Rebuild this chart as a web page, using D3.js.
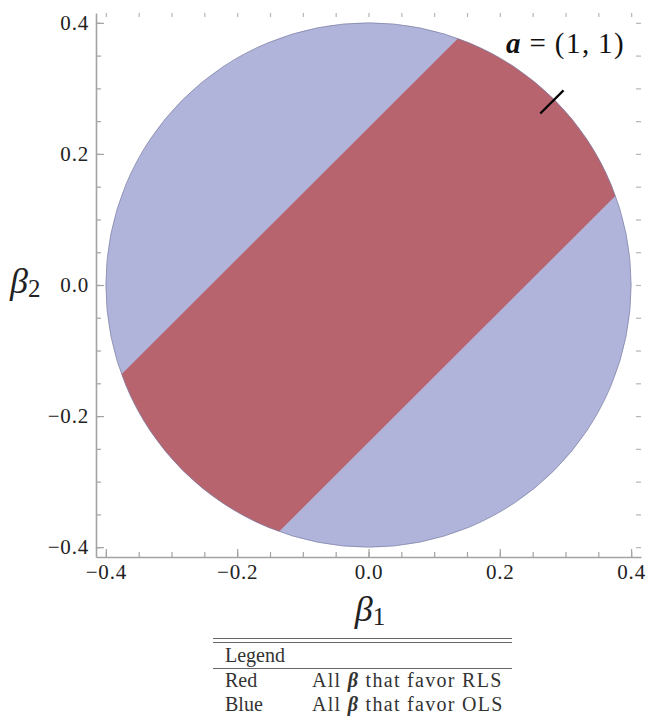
<!DOCTYPE html>
<html lang="en">
<head>
    <meta charset="UTF-8">
    <title>RLS vs OLS region</title>
    <script src="https://d3js.org/d3.v7.min.js"></script>
    <style>
        body { margin: 0; background: #fff; }
    </style>
</head>
<body>
    <script>
        // chart values
        const majorTicks = [-0.4, -0.2, 0.0, 0.2, 0.4];
        const minorTicks = [-0.4, -0.35, -0.3, -0.25, -0.2, -0.15, -0.1, -0.05, 0.0,
                            0.05, 0.1, 0.15, 0.2, 0.25, 0.3, 0.35, 0.4];
        const circleRadius = [0.4];
        const bandOffsets = [-0.24, 0.24];      // beta2 - beta1 limits of the red band
        const aVector = [1, 1];
        const aMarker = [0.37, 0.42];           // radial extent of the short "a" segment
        const legendHeader = ["Legend", ""];
        const legendNames = ["Red", "Blue"];
        const legendMethods = ["RLS", "OLS"];

        const width = 660;
        const height = 720;
        const serif = "'Liberation Serif', serif";

        const svg = d3.select("body").append("svg")
            .attr("width", width)
            .attr("height", height)
            .style("font-family", serif);

        const x = d3.scaleLinear().domain([-0.415, 0.415]).range([96, 641]);
        const y = d3.scaleLinear().domain([-0.415, 0.415]).range([557, 13]);

        const frameColor = "#a3a3a3";
        const fmt = d3.format(".1f");

        // circle + band
        const r = circleRadius[0];
        const defs = svg.append("defs");
        defs.append("clipPath").attr("id", "disk")
            .append("ellipse")
            .attr("cx", x(0)).attr("cy", y(0))
            .attr("rx", x(r) - x(0)).attr("ry", y(0) - y(r));

        svg.append("ellipse")
            .attr("cx", x(0)).attr("cy", y(0))
            .attr("rx", x(r) - x(0)).attr("ry", y(0) - y(r))
            .attr("fill", "#b0b4db");

        const lo = bandOffsets[0], hi = bandOffsets[1];
        const ext = 0.8;
        const band = [[-ext, -ext + hi], [ext, ext + hi], [ext, ext + lo], [-ext, -ext + lo]];
        svg.append("path")
            .datum(band)
            .attr("d", d3.line().x(d => x(d[0])).y(d => y(d[1])).curve(d3.curveLinearClosed))
            .attr("fill", "#b8646f")
            .attr("clip-path", "url(#disk)");

        svg.append("ellipse")
            .attr("cx", x(0)).attr("cy", y(0))
            .attr("rx", x(r) - x(0)).attr("ry", y(0) - y(r))
            .attr("fill", "none")
            .attr("stroke", "#7d80a3")
            .attr("stroke-opacity", 0.7)
            .attr("stroke-width", 1);

        // "a" direction marker
        const aLen = Math.hypot(aVector[0], aVector[1]);
        const ux = aVector[0] / aLen, uy = aVector[1] / aLen;
        svg.append("line")
            .attr("x1", x(aMarker[0] * ux)).attr("y1", y(aMarker[0] * uy))
            .attr("x2", x(aMarker[1] * ux)).attr("y2", y(aMarker[1] * uy))
            .attr("stroke", "#000")
            .attr("stroke-width", 2.2);

        const aLabel = svg.append("text")
            .attr("x", 506).attr("y", 53)
            .attr("font-size", 29)
            .attr("fill", "#111");
        aLabel.append("tspan").attr("font-weight", "bold").attr("font-style", "italic").text("a");
        aLabel.append("tspan").attr("dx", 9).text("=");
        aLabel.append("tspan").attr("dx", 9).attr("letter-spacing", 1.5)
            .text(`(${aVector[0]},\u2009${aVector[1]})`);

        // axes
        function styleAxis(g, showDomain) {
            g.selectAll("line").attr("stroke", frameColor).attr("stroke-width", 1.2);
            g.select(".domain").attr("stroke", showDomain ? frameColor : "none").attr("stroke-width", 1.6);
            g.selectAll("text")
                .style("font-family", serif)
                .style("font-size", "21px")
                .style("letter-spacing", "0.8px")
                .attr("fill", "#222");
        }

        const bottom = svg.append("g").attr("transform", `translate(0,${y.range()[0]})`)
            .call(d3.axisBottom(x).tickValues(majorTicks).tickFormat(fmt).tickSize(-8).tickSizeOuter(0).tickPadding(7));
        styleAxis(bottom, true);
        svg.append("g").attr("transform", `translate(0,${y.range()[0]})`)
            .call(d3.axisBottom(x).tickValues(minorTicks).tickFormat("").tickSize(-5).tickSizeOuter(0))
            .call(g => styleAxis(g, false));

        const left = svg.append("g").attr("transform", `translate(${x.range()[0]},0)`)
            .call(d3.axisLeft(y).tickValues(majorTicks).tickFormat(fmt).tickSize(-8).tickSizeOuter(0).tickPadding(7));
        styleAxis(left, true);
        svg.append("g").attr("transform", `translate(${x.range()[0]},0)`)
            .call(d3.axisLeft(y).tickValues(minorTicks).tickFormat("").tickSize(-5).tickSizeOuter(0))
            .call(g => styleAxis(g, false));

        // top and right: ticks only
        svg.append("g").attr("transform", `translate(0,${y.range()[1]})`)
            .call(d3.axisTop(x).tickValues(minorTicks).tickFormat("").tickSize(-4).tickSizeOuter(0))
            .call(g => styleAxis(g, false))
            .selectAll("line").attr("stroke", "#b5b5b5");
        svg.append("g").attr("transform", `translate(${x.range()[1]},0)`)
            .call(d3.axisRight(y).tickValues(minorTicks).tickFormat("").tickSize(-5).tickSizeOuter(0))
            .call(g => styleAxis(g, false))
            .selectAll("line").attr("stroke", "#b5b5b5");

        // axis titles
        const xTitle = svg.append("text")
            .attr("x", 370).attr("y", 621)
            .attr("text-anchor", "middle")
            .attr("fill", "#222");
        xTitle.append("tspan").attr("font-size", 36).attr("font-style", "italic").text("β");
        xTitle.append("tspan").attr("font-size", 25).attr("dy", 4).text("1");

        const yTitle = svg.append("text")
            .attr("x", 10).attr("y", 293)
            .attr("fill", "#222");
        yTitle.append("tspan").attr("font-size", 36).attr("font-style", "italic").text("β");
        yTitle.append("tspan").attr("font-size", 25).attr("dy", 4).text("2");

        // legend table
        const tx0 = 213, tx1 = 512;
        const rule = (yy, w) => svg.append("line")
            .attr("x1", tx0).attr("x2", tx1).attr("y1", yy).attr("y2", yy)
            .attr("stroke", "#666").attr("stroke-width", w);
        rule(638.5, 1.2);
        rule(642.5, 1.2);
        rule(668.5, 1);

        svg.append("text")
            .attr("x", 225).attr("y", 662)
            .attr("font-size", 20).attr("fill", "#333")
            .text(legendHeader[0]);

        legendNames.forEach((name, i) => {
            const yy = 687 + i * 24;
            svg.append("text")
                .attr("x", 225).attr("y", yy)
                .attr("font-size", 20).attr("fill", "#333")
                .text(name);
            const t = svg.append("text")
                .attr("x", 312).attr("y", yy)
                .attr("font-size", 20).attr("fill", "#333")
                .attr("letter-spacing", 1.3);
            t.append("tspan").text("All ");
            t.append("tspan").attr("font-weight", "bold").attr("font-style", "italic").text("β");
            t.append("tspan").text(` that favor ${legendMethods[i]}`);
        });
    </script>
</body>
</html>
